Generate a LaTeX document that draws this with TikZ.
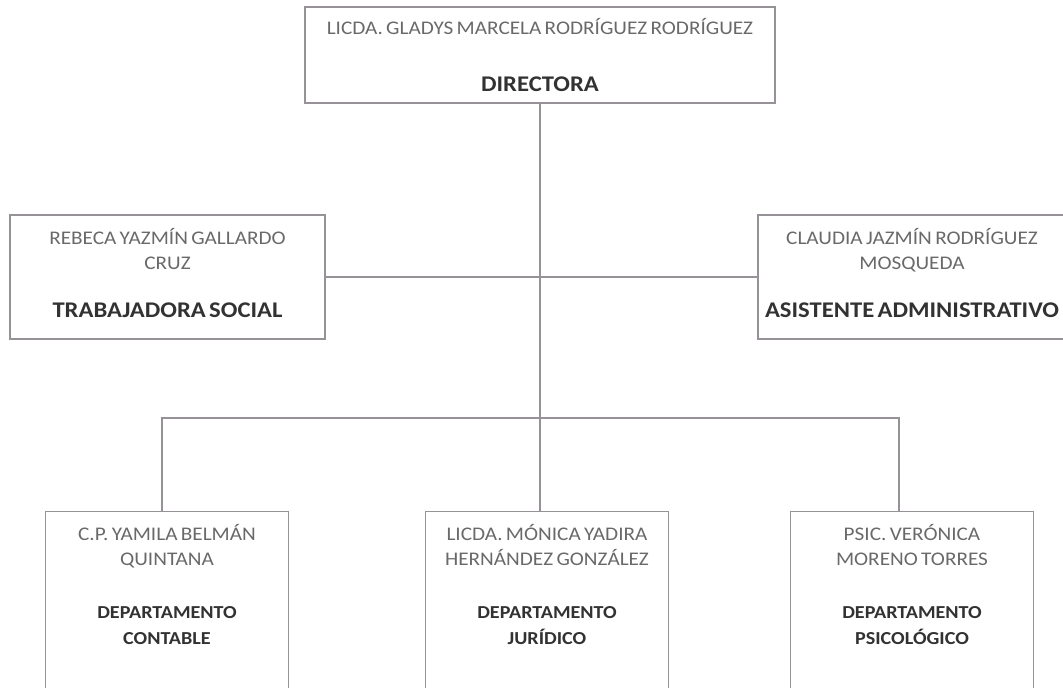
\documentclass[tikz,border=0pt]{standalone}
\usepackage{fontspec}
\setmainfont{Carlito}[FakeStretch=1.1]
\usetikzlibrary{positioning}
\definecolor{lineagris}{RGB}{150,146,152}
\definecolor{nombregris}{RGB}{105,105,105}
\definecolor{cargogris}{RGB}{50,50,50}
\newcommand{\nombre}[1]{{\color{nombregris}\fontsize{19.3}{25}\selectfont #1\par}}
\newcommand{\cargo}[2][22.4]{{\color{cargogris}\bfseries\fontsize{#1}{26}\selectfont #2\par}}
\tikzset{caja/.style={draw=lineagris, line width=1.2pt, rectangle, inner xsep=0pt, inner ysep=0pt, align=center}}
\tikzset{depto/.style={caja, anchor=north, text width=243pt, inner ysep=13pt}}
\tikzset{conector/.style={draw=lineagris, line width=1.2pt}}

\begin{document}
\begin{tikzpicture}[x=1pt, y=-1pt]
\useasboundingbox (0,0) rectangle (1063,688);
\clip (0,0) rectangle (1063,688);

\node (dir) [caja, text width=470pt, minimum height=96pt] at (540,55)
  {\nombre{LICDA. GLADYS MARCELA RODRÍGUEZ RODRÍGUEZ}\vspace{31pt}\cargo{DIRECTORA}};

\node (ts) [caja, text width=315pt, minimum height=124pt] at (167.5,277)
  {\nombre{REBECA YAZMÍN GALLARDO\\CRUZ}\vspace{22pt}\cargo{TRABAJADORA SOCIAL\rule[-8pt]{0pt}{8pt}}};
\node (aa) [caja, text width=308pt, minimum height=124pt] at (912,277)
  {\nombre{CLAUDIA JAZMÍN RODRÍGUEZ\\MOSQUEDA}\vspace{22pt}\cargo{ASISTENTE ADMINISTRATIVO\rule[-8pt]{0pt}{8pt}}};

% departamentos, abiertos por abajo
\node (cont) [depto] at (167,511)
  {\nombre{C.P. YAMILA BELMÁN\\QUINTANA}\vspace{27pt}\cargo[18.3]{DEPARTAMENTO\\CONTABLE}\vspace*{90pt}\mbox{}};
\node (jur) [depto] at (547,511)
  {\nombre{LICDA. MÓNICA YADIRA\\HERNÁNDEZ GONZÁLEZ}\vspace{27pt}\cargo[18.3]{DEPARTAMENTO\\JURÍDICO}\vspace*{90pt}\mbox{}};
\node (psic) [depto] at (912,511)
  {\nombre{PSIC. VERÓNICA\\MORENO TORRES}\vspace{27pt}\cargo[18.3]{DEPARTAMENTO\\PSICOLÓGICO}\vspace*{90pt}\mbox{}};

\coordinate (busL) at (162,418);
\coordinate (busR) at (899,418);

\draw[conector] (dir.south) -- (dir.south |- jur.north);
\draw[conector] (ts) -- (aa);
\draw[conector] (busL |- cont.north) -- (busL) -- (busR) -- (busR |- psic.north);
\end{tikzpicture}
\end{document}
